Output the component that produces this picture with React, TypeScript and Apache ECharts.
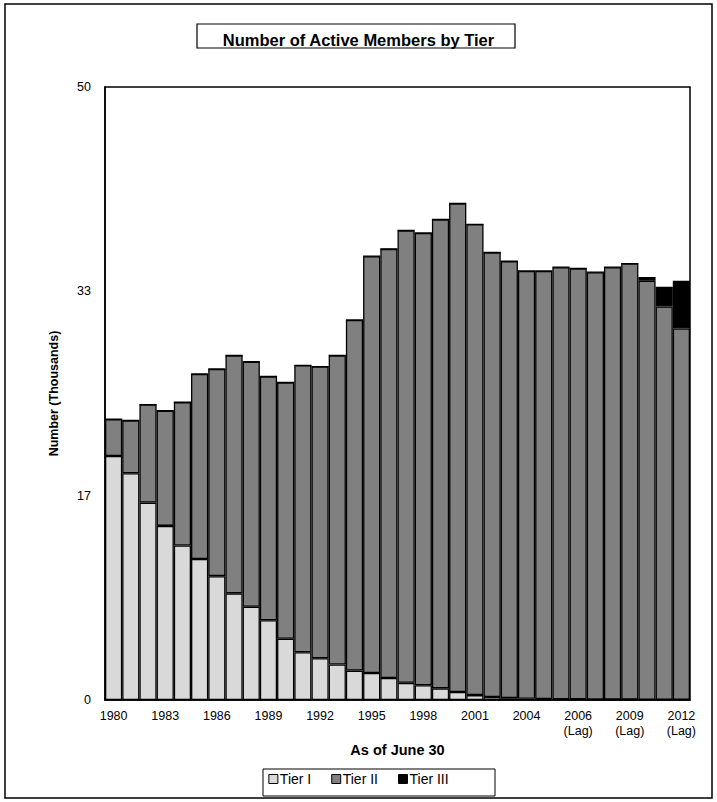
import { useEffect, useRef } from "react";
import * as echarts from "echarts";

const categories = [
  "1980", "1981", "1982", "1983", "1984", "1985", "1986", "1987", "1988", "1989",
  "1990", "1991", "1992", "1993", "1994", "1995", "1996", "1997", "1998", "1999",
  "2000", "2001", "2002", "2003", "2004", "2005", "2006", "2006\n(Lag)", "2007\n(Lag)", "2008\n(Lag)",
  "2009\n(Lag)", "2010\n(Lag)", "2011\n(Lag)", "2012\n(Lag)",
];

const tierI = [
  19.9, 18.5, 16.1, 14.2, 12.6, 11.5, 10.1, 8.7, 7.6, 6.5,
  5.0, 3.9, 3.4, 2.9, 2.4, 2.2, 1.8, 1.4, 1.2, 0.95,
  0.65, 0.4, 0.25, 0.15, 0.1, 0.08, 0.06, 0.05, 0.04, 0.03,
  0.03, 0.02, 0.02, 0.01,
];

const tierII = [
  3.0, 4.3, 8.0, 9.4, 11.7, 15.1, 16.9, 19.4, 20.0, 19.9,
  20.9, 23.4, 23.8, 25.2, 28.6, 34.0, 35.0, 36.9, 36.9, 38.25,
  39.85, 38.4, 36.25, 35.65, 34.9, 34.92, 35.24, 35.15, 34.86, 35.27,
  35.57, 34.18, 32.08, 30.29,
];

const tierIII = [
  0, 0, 0, 0, 0, 0, 0, 0, 0, 0,
  0, 0, 0, 0, 0, 0, 0, 0, 0, 0,
  0, 0, 0, 0, 0, 0, 0, 0, 0, 0,
  0, 0.3, 1.6, 3.9,
];

const FONT = "Liberation Sans, Arial, sans-serif";

export default function App() {
  const chartRef = useRef<HTMLDivElement>(null);

  useEffect(() => {
    if (!chartRef.current) return;
    const chart = echarts.init(chartRef.current, null, { renderer: "svg" });

    const bar = (name: string, data: number[], color: string) => ({
      name,
      type: "bar" as const,
      stack: "total",
      data,
      barCategoryGap: 0,
      itemStyle: { color, borderColor: "#000", borderWidth: 1.3 },
    });

    const option: echarts.EChartsOption = {
      animation: false,
      textStyle: { fontFamily: FONT },
      title: {
        text: "Number of Active Members by Tier",
        left: "center",
        top: 26,
        textStyle: { fontSize: 16.5, fontWeight: "bold", color: "#000", fontFamily: FONT },
      },
      graphic: [
        { type: "rect", shape: { x: 5, y: 4, width: 707, height: 794 }, style: { fill: "none", stroke: "#000", lineWidth: 1.5 }, silent: true },
        { type: "rect", shape: { x: 197, y: 24, width: 318, height: 24 }, style: { fill: "none", stroke: "#000", lineWidth: 1.2 }, silent: true },
        { type: "rect", shape: { x: 263, y: 769, width: 232, height: 27 }, style: { fill: "none", stroke: "#000", lineWidth: 1 }, silent: true },
      ],
      legend: {
        bottom: 11,
        left: "center",
        itemWidth: 9,
        itemHeight: 9,
        itemGap: 20,
        icon: "rect",
        textStyle: { fontSize: 14, color: "#000", fontFamily: FONT, padding: [0, 0, 0, -3] },
        itemStyle: { borderColor: "#000", borderWidth: 1 },
        data: ["Tier I", "Tier II", "Tier III"],
      },
      grid: { left: 105, right: 27, top: 87, bottom: 102, show: true, borderColor: "#000", borderWidth: 1.5 },
      xAxis: {
        type: "category",
        data: categories,
        name: "As of June 30",
        nameLocation: "middle",
        nameGap: 38,
        nameTextStyle: { fontSize: 14.5, fontWeight: "bold", color: "#000", fontFamily: FONT },
        axisLine: { lineStyle: { color: "#000", width: 1.5 } },
        axisTick: { inside: true, length: 3, interval: 0, lineStyle: { color: "#000" } },
        axisLabel: {
          interval: 2,
          fontSize: 12.5,
          color: "#000",
          fontFamily: FONT,
          lineHeight: 15,
        },
      },
      yAxis: {
        type: "value",
        min: 0,
        max: 50,
        interval: 50 / 3,
        name: "Number (Thousands)",
        nameLocation: "middle",
        nameGap: 45,
        nameTextStyle: { fontSize: 12.5, fontWeight: "bold", color: "#000", fontFamily: FONT },
        axisLine: { show: true, lineStyle: { color: "#000", width: 1.5 } },
        axisTick: { show: false },
        splitLine: { show: false },
        axisLabel: {
          fontSize: 12.5,
          color: "#000",
          fontFamily: FONT,
          margin: 14,
          formatter: (v: number) => String(Math.round(v)),
        },
      },
      series: [
        bar("Tier I", tierI, "#d9d9d9"),
        bar("Tier II", tierII, "#808080"),
        bar("Tier III", tierIII, "#000000"),
      ],
    };

    chart.setOption(option);
    return () => chart.dispose();
  }, []);

  return (
    <div
      ref={chartRef}
      style={{ position: "fixed", left: 0, top: 0, width: 717, height: 802, background: "#fff" }}
    />
  );
}
